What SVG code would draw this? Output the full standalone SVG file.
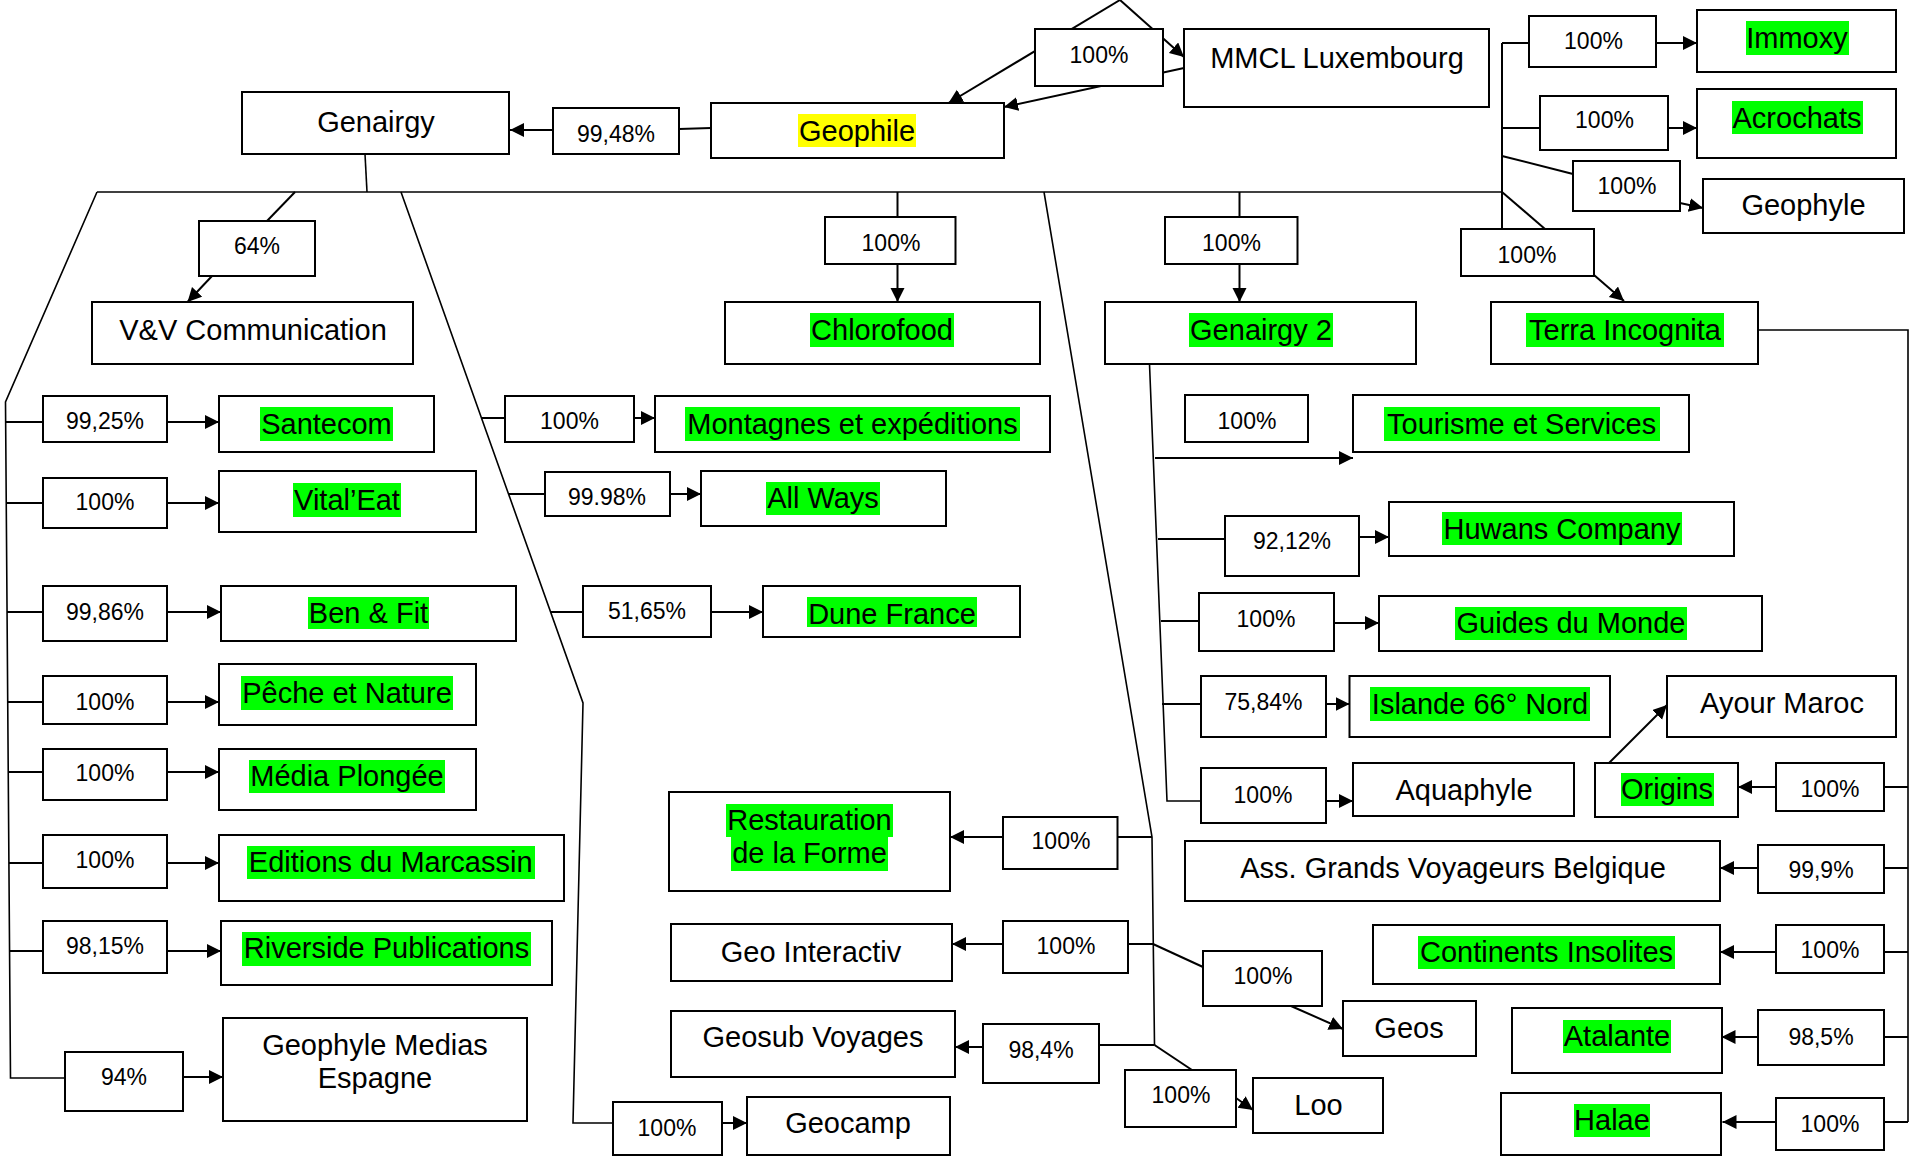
<svg xmlns="http://www.w3.org/2000/svg" width="1910" height="1157" viewBox="0 0 1910 1157">
<style>
.b{fill:#fff;stroke:#000;stroke-width:2}
.l{fill:none;stroke:#000;stroke-width:2}
.d{fill:none;stroke:#000;stroke-width:1.6}
.a{fill:none;stroke:#000;stroke-width:2;marker-end:url(#ah)}
.t{font-family:"Liberation Sans",Arial,sans-serif;font-size:29px;text-anchor:middle;fill:#000}
.p{font-size:23px}
.g{fill:#00ff00}
.y{fill:#ffff00}
</style>
<defs>
<marker id="ah" markerUnits="userSpaceOnUse" markerWidth="16" markerHeight="16" refX="14" refY="7" orient="auto"><path d="M0,0 L14,7 L0,14 z" fill="#000"/></marker>
</defs>
<rect width="1910" height="1157" fill="#fff"/>
<g id="connectors">
<path class="a" d="M1120,0 L948.5,103"/>
<path class="a" d="M1120,0 L1184,57"/>
<path class="a" d="M1184,68 L1004,107"/>
<path class="l" d="M711,128 L679,129"/>
<path class="a" d="M553,130 L510,130"/>
<path class="d" d="M365,154 L367,192"/>
<path class="d" d="M97,192 L1502,192"/>
<path class="l" d="M295,192 L267,221"/>
<path class="a" d="M212,276 L187.5,302"/>
<path class="d" d="M97,192 L5.5,402 L10.5,1078 L65,1078"/>
<path class="l" d="M6,422 L43,422"/><path class="a" d="M167,422 L219,422"/>
<path class="l" d="M6,503 L43,503"/><path class="a" d="M167,503 L219,503"/>
<path class="l" d="M7,612 L43,612"/><path class="a" d="M167,612 L221,612"/>
<path class="l" d="M8,702 L43,702"/><path class="a" d="M167,702 L219,702"/>
<path class="l" d="M8,772 L43,772"/><path class="a" d="M167,772 L219,772"/>
<path class="l" d="M9,863 L43,863"/><path class="a" d="M167,863 L219,863"/>
<path class="l" d="M9,951 L43,951"/><path class="a" d="M167,951 L221,951"/>
<path class="a" d="M183,1077 L223,1077"/>
<path class="d" d="M401,192 L583,703 L573,1123 L613,1123"/>
<path class="l" d="M482,418 L505,418"/><path class="a" d="M634,418 L655,418"/>
<path class="l" d="M508,494 L545,494"/><path class="a" d="M670,494 L701,494"/>
<path class="l" d="M550,612 L583,612"/><path class="a" d="M711,612 L763,612"/>
<path class="a" d="M722,1123 L747,1123"/>
<path class="l" d="M897.5,192 L897.5,217"/><path class="a" d="M897.5,264 L897.5,302"/>
<path class="l" d="M1239.5,192 L1239.5,217"/><path class="a" d="M1239.5,264 L1239.5,302"/>
<path class="d" d="M1044,192 L1152,837 L1154.5,1045"/>
<path class="l" d="M1152,837 L1117.5,837"/><path class="a" d="M1003,837 L950,837"/>
<path class="l" d="M1153,944 L1128,944"/><path class="a" d="M1003,944 L952,944"/>
<path class="l" d="M1154.5,1045 L1099,1045"/><path class="a" d="M983,1047 L955,1047"/>
<path class="l" d="M1153,944 L1203,967"/><path class="a" d="M1291,1006 L1343,1029"/>
<path class="l" d="M1154.5,1045 L1192,1070"/><path class="a" d="M1236,1098 L1253,1110"/>
<path class="d" d="M1149.5,364 L1167,801 L1201,801"/>
<path class="a" d="M1155,458 L1353,458"/>
<path class="l" d="M1158,539 L1225,539"/><path class="a" d="M1359,537 L1389,537"/>
<path class="l" d="M1161,621 L1199,621"/><path class="a" d="M1334,623 L1379,623"/>
<path class="l" d="M1162,704 L1201,704"/><path class="a" d="M1326,704 L1349.5,704"/>
<path class="a" d="M1326,801 L1353,801"/>
<path class="l" d="M1502,43 L1502,229"/>
<path class="l" d="M1502,43 L1529,43"/><path class="a" d="M1656,43 L1697,43"/>
<path class="l" d="M1502,128 L1540,128"/><path class="a" d="M1668,128 L1697,128"/>
<path class="l" d="M1502,156 L1573,174"/><path class="a" d="M1680,203 L1703,208"/>
<path class="l" d="M1502,192 L1545,229"/><path class="a" d="M1594,275 L1624,301"/>
<path class="d" d="M1758,330 L1908,330 L1908,1122"/>
<path class="l" d="M1908,787 L1884,787"/><path class="a" d="M1776,787 L1738,787"/>
<path class="a" d="M1609,763 L1667,705"/>
<path class="l" d="M1908,868 L1884,868"/><path class="a" d="M1758,868 L1720,868"/>
<path class="l" d="M1908,952 L1884,952"/><path class="a" d="M1776,952 L1720,952"/>
<path class="l" d="M1908,1037 L1884,1037"/><path class="a" d="M1758,1037 L1721.5,1037"/>
<path class="l" d="M1908,1122 L1884,1122"/><path class="a" d="M1776,1122 L1722.5,1122"/>
</g>
<g id="n-genairgy"><rect class="b" x="242" y="92" width="267" height="62"/><text class="t" x="376" y="132">Genairgy</text></g>
<g id="p-geophile-genairgy"><rect class="b" x="553" y="108" width="126" height="46"/><text class="t p" x="616" y="142">99,48%</text></g>
<g id="n-geophile"><rect class="b" x="711" y="103" width="293" height="55"/><rect class="y" x="798" y="114" width="118" height="33"/><text class="t" x="857" y="141">Geophile</text></g>
<g id="p-mmcl-geophile"><rect class="b" x="1035" y="29" width="128" height="57"/><text class="t p" x="1099" y="63">100%</text></g>
<g id="n-mmcl"><rect class="b" x="1184" y="29" width="305" height="78"/><text class="t" x="1337" y="68">MMCL Luxembourg</text></g>
<g id="p-vv"><rect class="b" x="199" y="221" width="116" height="55"/><text class="t p" x="257" y="254">64%</text></g>
<g id="n-vv"><rect class="b" x="92" y="302" width="321" height="62"/><text class="t" x="253" y="340">V&amp;V Communication</text></g>
<g id="p-santecom"><rect class="b" x="43" y="396" width="124" height="46"/><text class="t p" x="105" y="429">99,25%</text></g>
<g id="n-santecom"><rect class="b" x="219" y="396" width="215" height="56"/><rect class="g" x="260" y="407" width="133" height="34"/><text class="t" x="326.5" y="433.5">Santecom</text></g>
<g id="p-vitaleat"><rect class="b" x="43" y="478" width="124" height="50"/><text class="t p" x="105" y="510">100%</text></g>
<g id="n-vitaleat"><rect class="b" x="219" y="471" width="257" height="61"/><rect class="g" x="293" y="483" width="108" height="34"/><text class="t" x="347" y="510">Vital’Eat</text></g>
<g id="p-benfit"><rect class="b" x="43" y="586" width="124" height="55"/><text class="t p" x="105" y="620">99,86%</text></g>
<g id="n-benfit"><rect class="b" x="221" y="586" width="295" height="55"/><rect class="g" x="308" y="597" width="121" height="32"/><text class="t" x="368.5" y="623">Ben &amp; Fit</text></g>
<g id="p-peche"><rect class="b" x="43" y="676" width="124" height="48"/><text class="t p" x="105" y="710">100%</text></g>
<g id="n-peche"><rect class="b" x="219" y="664" width="257" height="61"/><rect class="g" x="241" y="676" width="212" height="34"/><text class="t" x="347" y="702.5">Pêche et Nature</text></g>
<g id="p-media"><rect class="b" x="43" y="749" width="124" height="51"/><text class="t p" x="105" y="781">100%</text></g>
<g id="n-media"><rect class="b" x="219" y="749" width="257" height="61"/><rect class="g" x="249" y="760" width="196" height="33"/><text class="t" x="347" y="786">Média Plongée</text></g>
<g id="p-editions"><rect class="b" x="43" y="835" width="124" height="53"/><text class="t p" x="105" y="868">100%</text></g>
<g id="n-editions"><rect class="b" x="219" y="835" width="345" height="66"/><rect class="g" x="247" y="846" width="288" height="33"/><text class="t" x="390.7" y="872">Editions du Marcassin</text></g>
<g id="p-riverside"><rect class="b" x="43" y="921" width="124" height="52"/><text class="t p" x="105" y="954">98,15%</text></g>
<g id="n-riverside"><rect class="b" x="221" y="921" width="331" height="64"/><rect class="g" x="242" y="932" width="289" height="34"/><text class="t" x="386.5" y="958">Riverside Publications</text></g>
<g id="p-gme"><rect class="b" x="65" y="1052" width="118" height="59"/><text class="t p" x="124" y="1085">94%</text></g>
<g id="n-gme"><rect class="b" x="223" y="1018" width="304" height="103"/><text class="t" x="375" y="1055">Geophyle Medias</text><text class="t" x="375" y="1088">Espagne</text></g>
<g id="p-montagnes"><rect class="b" x="505" y="396" width="129" height="46"/><text class="t p" x="569.5" y="429">100%</text></g>
<g id="n-montagnes"><rect class="b" x="655" y="396" width="395" height="56"/><rect class="g" x="685" y="407" width="335" height="34"/><text class="t" x="852.5" y="433.5">Montagnes et expéditions</text></g>
<g id="p-allways"><rect class="b" x="545" y="472" width="125" height="44"/><text class="t p" x="607" y="505">99.98%</text></g>
<g id="n-allways"><rect class="b" x="701" y="471" width="245" height="55"/><rect class="g" x="766" y="482" width="114" height="33"/><text class="t" x="823" y="508">All Ways</text></g>
<g id="p-dune"><rect class="b" x="583" y="586" width="128" height="51"/><text class="t p" x="647" y="619">51,65%</text></g>
<g id="n-dune"><rect class="b" x="763" y="586" width="257" height="51"/><rect class="g" x="807" y="597" width="170" height="30"/><text class="t" x="892" y="624">Dune France</text></g>
<g id="p-geocamp"><rect class="b" x="613" y="1102" width="109" height="53"/><text class="t p" x="667" y="1136">100%</text></g>
<g id="n-geocamp"><rect class="b" x="747" y="1097" width="203" height="58"/><text class="t" x="848" y="1133">Geocamp</text></g>
<g id="p-chlorofood"><rect class="b" x="825" y="217" width="130.5" height="47"/><text class="t p" x="891" y="250.5">100%</text></g>
<g id="n-chlorofood"><rect class="b" x="725" y="302" width="315" height="62"/><rect class="g" x="810" y="313" width="144" height="34"/><text class="t" x="882" y="340">Chlorofood</text></g>
<g id="p-genairgy2"><rect class="b" x="1165" y="217" width="132.5" height="47"/><text class="t p" x="1231.5" y="250.5">100%</text></g>
<g id="n-genairgy2"><rect class="b" x="1105" y="302" width="311" height="62"/><rect class="g" x="1189" y="313" width="144" height="34"/><text class="t" x="1261" y="340">Genairgy 2</text></g>
<g id="p-restauration"><rect class="b" x="1003" y="817" width="114.5" height="52"/><text class="t p" x="1061" y="849">100%</text></g>
<g id="n-restauration"><rect class="b" x="669" y="792" width="281" height="99"/><rect class="g" x="726" y="804" width="167" height="33"/><rect class="g" x="731" y="837" width="157" height="34"/><text class="t" x="809.5" y="830">Restauration</text><text class="t" x="809.5" y="863">de la Forme</text></g>
<g id="p-geointeractiv"><rect class="b" x="1003" y="921" width="125" height="52"/><text class="t p" x="1066" y="954">100%</text></g>
<g id="n-geointeractiv"><rect class="b" x="671" y="924" width="281" height="57"/><text class="t" x="811" y="962">Geo Interactiv</text></g>
<g id="p-geosub"><rect class="b" x="983" y="1024" width="116" height="59"/><text class="t p" x="1041" y="1057.5">98,4%</text></g>
<g id="n-geosub"><rect class="b" x="671" y="1011" width="284" height="66"/><text class="t" x="813" y="1047">Geosub Voyages</text></g>
<g id="p-geos"><rect class="b" x="1203" y="951" width="119" height="55"/><text class="t p" x="1263" y="984">100%</text></g>
<g id="n-geos"><rect class="b" x="1343" y="1001" width="133" height="55"/><text class="t" x="1409" y="1038">Geos</text></g>
<g id="p-loo"><rect class="b" x="1125" y="1070" width="111" height="57"/><text class="t p" x="1181" y="1103">100%</text></g>
<g id="n-loo"><rect class="b" x="1253" y="1078" width="130" height="55"/><text class="t" x="1318.5" y="1115">Loo</text></g>
<g id="p-tourisme"><rect class="b" x="1185" y="395" width="123" height="47"/><text class="t p" x="1247" y="429">100%</text></g>
<g id="n-tourisme"><rect class="b" x="1353" y="395" width="336" height="57"/><rect class="g" x="1384" y="407" width="276" height="34"/><text class="t" x="1521.7" y="433.5">Tourisme et Services</text></g>
<g id="p-huwans"><rect class="b" x="1225" y="516" width="134" height="60"/><text class="t p" x="1292" y="549">92,12%</text></g>
<g id="n-huwans"><rect class="b" x="1389" y="502" width="345" height="54"/><rect class="g" x="1442" y="512" width="240" height="33"/><text class="t" x="1562" y="538.5">Huwans Company</text></g>
<g id="p-guides"><rect class="b" x="1199" y="593" width="135" height="58"/><text class="t p" x="1266" y="626.5">100%</text></g>
<g id="n-guides"><rect class="b" x="1379" y="596" width="383" height="55"/><rect class="g" x="1455" y="607" width="232" height="33"/><text class="t" x="1571" y="633">Guides du Monde</text></g>
<g id="p-islande"><rect class="b" x="1201" y="676" width="125" height="61"/><text class="t p" x="1263.5" y="710">75,84%</text></g>
<g id="n-islande"><rect class="b" x="1349.5" y="676" width="260.5" height="61"/><rect class="g" x="1370" y="687" width="220" height="34"/><text class="t" x="1480" y="713.5">Islande 66° Nord</text></g>
<g id="p-aquaphyle"><rect class="b" x="1201" y="768" width="125" height="55"/><text class="t p" x="1263" y="803">100%</text></g>
<g id="n-aquaphyle"><rect class="b" x="1353" y="763" width="221" height="53"/><text class="t" x="1464" y="800">Aquaphyle</text></g>
<g id="p-immoxy"><rect class="b" x="1529" y="16" width="127" height="51"/><text class="t p" x="1593.5" y="49">100%</text></g>
<g id="n-immoxy"><rect class="b" x="1697" y="10" width="199" height="62"/><rect class="g" x="1746" y="21" width="103" height="34"/><text class="t" x="1797" y="48">Immoxy</text></g>
<g id="p-acrochats"><rect class="b" x="1540" y="96" width="128" height="54"/><text class="t p" x="1604.5" y="128">100%</text></g>
<g id="n-acrochats"><rect class="b" x="1697" y="89" width="199" height="69"/><rect class="g" x="1732" y="101" width="131" height="33"/><text class="t" x="1797" y="128">Acrochats</text></g>
<g id="p-geophyle"><rect class="b" x="1573" y="161" width="107" height="50"/><text class="t p" x="1627" y="194">100%</text></g>
<g id="n-geophyle"><rect class="b" x="1703" y="179" width="201" height="54"/><text class="t" x="1803.5" y="215">Geophyle</text></g>
<g id="p-terra"><rect class="b" x="1461" y="229" width="133" height="47"/><text class="t p" x="1527" y="263">100%</text></g>
<g id="n-terra"><rect class="b" x="1491" y="302" width="267" height="62"/><rect class="g" x="1526" y="313" width="198" height="34"/><text class="t" x="1625" y="340">Terra Incognita</text></g>
<g id="p-origins"><rect class="b" x="1776" y="763" width="108" height="48"/><text class="t p" x="1830" y="796.5">100%</text></g>
<g id="n-origins"><rect class="b" x="1595" y="763" width="143" height="54"/><rect class="g" x="1621" y="773" width="93" height="33"/><text class="t" x="1667" y="799">Origins</text></g>
<g id="n-ayour"><rect class="b" x="1667" y="676" width="229" height="61"/><text class="t" x="1782" y="713">Ayour Maroc</text></g>
<g id="p-ass"><rect class="b" x="1758" y="845" width="126" height="48"/><text class="t p" x="1821" y="878">99,9%</text></g>
<g id="n-ass"><rect class="b" x="1185" y="841" width="535" height="60"/><text class="t" x="1453" y="878">Ass. Grands Voyageurs Belgique</text></g>
<g id="p-continents"><rect class="b" x="1776" y="925" width="108" height="48"/><text class="t p" x="1830" y="958">100%</text></g>
<g id="n-continents"><rect class="b" x="1373" y="925" width="347" height="59"/><rect class="g" x="1418" y="936" width="257" height="33"/><text class="t" x="1546.5" y="962">Continents Insolites</text></g>
<g id="p-atalante"><rect class="b" x="1758" y="1010" width="126" height="55"/><text class="t p" x="1821" y="1045">98,5%</text></g>
<g id="n-atalante"><rect class="b" x="1512" y="1008" width="210" height="65"/><rect class="g" x="1563" y="1020" width="108" height="33"/><text class="t" x="1617" y="1046">Atalante</text></g>
<g id="p-halae"><rect class="b" x="1776" y="1098" width="108" height="52"/><text class="t p" x="1830" y="1131.5">100%</text></g>
<g id="n-halae"><rect class="b" x="1501" y="1093" width="220" height="62"/><rect class="g" x="1574" y="1104" width="76" height="33"/><text class="t" x="1612" y="1130">Halae</text></g>
</svg>
